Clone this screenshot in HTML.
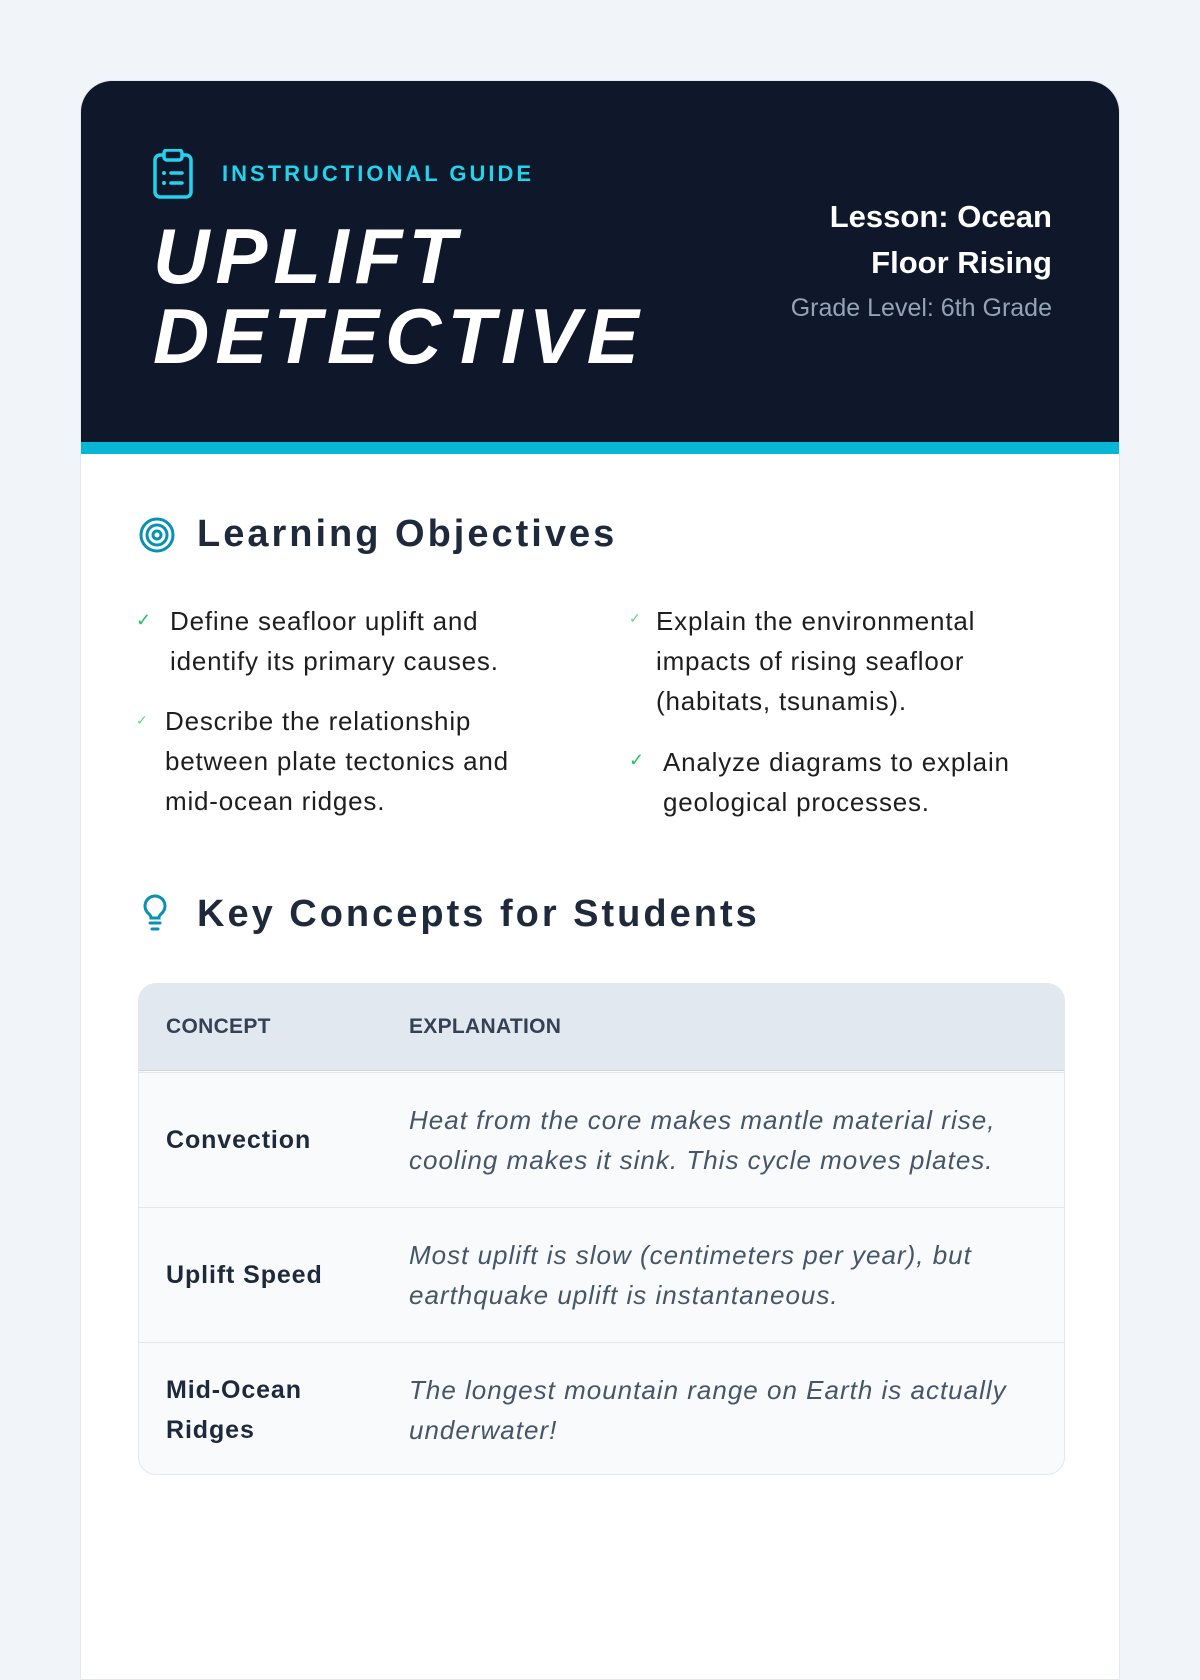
<!DOCTYPE html>
<html><head><meta charset="utf-8"><style>
*{margin:0;padding:0;box-sizing:border-box}
body{width:1200px;height:1600px;background:#f1f5f9;font-family:"Liberation Sans",sans-serif;position:relative;overflow:hidden}
.card{position:absolute;left:80px;top:80px;width:1040px;height:1600px;background:#fff;border-radius:32px 32px 0 0;border:1px solid #e2e8f0;overflow:hidden}
.hdr{position:absolute;left:0;top:0;width:1040px;height:361px;background:#0f172a}
.stripe{position:absolute;left:0;top:361px;width:1040px;height:12px;background:#06b6d4}
.a{position:absolute;white-space:nowrap}
.tag{left:141px;top:80px;color:#22d3ee;font-weight:bold;font-size:22px;letter-spacing:3px;line-height:26px}
.title{left:72px;top:135px;color:#fff;font-weight:900;font-style:italic;font-size:78px;line-height:80px;letter-spacing:6px}
.lesson{right:67px;top:113px;color:#fff;font-weight:bold;font-size:31px;line-height:46px;text-align:right}
.grade{right:67px;top:212px;color:#94a3b8;font-size:25px;line-height:30px}
h2{position:absolute;left:116px;font-size:38px;font-weight:bold;color:#1e293b;line-height:46px;white-space:nowrap;letter-spacing:3px}
.li{position:absolute;font-size:26px;line-height:40px;color:#1e1e1e;letter-spacing:0.8px;white-space:nowrap}
.ck{position:absolute;color:#22c55e;font-size:18px}
.tbl{position:absolute;left:57px;top:902px;width:927px;height:492px;border:1px solid #e2e8f0;border-radius:18px;overflow:hidden;background:#f8fafc}
.th{position:absolute;left:0;top:0;width:100%;height:87px;background:#e2e8f0;border-bottom:1px solid #cbd5e1}
.tt{position:absolute;font-weight:bold;font-size:21px;color:#334155;line-height:26px;letter-spacing:0.3px}
.row{position:absolute;left:0;width:100%;border-top:1px solid #e2e8f0}
.c1{position:absolute;left:27px;font-weight:bold;font-size:25px;color:#1e293b;line-height:40px;letter-spacing:0.9px}
.c2{position:absolute;left:270px;font-style:italic;font-size:26px;color:#475569;line-height:40px;white-space:nowrap;letter-spacing:1px}
</style></head><body>
<div class="card">
<div class="hdr"></div><div class="stripe"></div>
<svg class="a" style="left:71px;top:68px" width="44" height="50" viewBox="0 0 44 50"><rect x="3" y="6" width="36" height="42" rx="5" fill="none" stroke="#22d3ee" stroke-width="3.5"/><rect x="12" y="1" width="18" height="10" rx="3" fill="#0f172a" stroke="#22d3ee" stroke-width="3.5"/><circle cx="12" cy="24" r="2" fill="#22d3ee"/><circle cx="12" cy="34" r="2" fill="#22d3ee"/><line x1="19" y1="24" x2="30" y2="24" stroke="#22d3ee" stroke-width="3.5" stroke-linecap="round"/><line x1="19" y1="34" x2="30" y2="34" stroke="#22d3ee" stroke-width="3.5" stroke-linecap="round"/></svg>
<div class="a tag">INSTRUCTIONAL GUIDE</div>
<div class="a title">UPLIFT<br>DETECTIVE</div>
<div class="a lesson">Lesson: Ocean<br>Floor Rising</div>
<div class="a grade">Grade Level: 6th Grade</div>

<svg class="a" style="left:57px;top:435px" width="38" height="38" viewBox="0 0 38 38"><circle cx="19" cy="19" r="16" fill="none" stroke="#0891b2" stroke-width="3"/><circle cx="19" cy="19" r="10" fill="none" stroke="#0891b2" stroke-width="3"/><circle cx="19" cy="19" r="4" fill="none" stroke="#0891b2" stroke-width="3"/></svg>
<h2 style="top:430px">Learning Objectives</h2>

<div class="ck" style="left:55px;top:529px">✓</div>
<div class="li" style="left:89px;top:520px">Define seafloor uplift and<br>identify its primary causes.</div>
<div class="ck" style="left:55px;top:631px;font-size:14px;opacity:.7">✓</div>
<div class="li" style="left:84px;top:620px">Describe the relationship<br>between plate tectonics and<br>mid-ocean ridges.</div>
<div class="ck" style="left:548px;top:529px;font-size:14px;opacity:.7">✓</div>
<div class="li" style="left:575px;top:520px">Explain the environmental<br>impacts of rising seafloor<br>(habitats, tsunamis).</div>
<div class="ck" style="left:548px;top:669px">✓</div>
<div class="li" style="left:582px;top:661px">Analyze diagrams to explain<br>geological processes.</div>

<svg class="a" style="left:60px;top:812px" width="28" height="40" viewBox="0 0 28 40"><path d="M14 3a10 10 0 0 0-6 18c1.5 1.2 2 2.5 2 4h8c0-1.5.5-2.8 2-4a10 10 0 0 0-6-18z" fill="none" stroke="#0891b2" stroke-width="3"/><line x1="9" y1="30" x2="19" y2="30" stroke="#0891b2" stroke-width="3" stroke-linecap="round"/><line x1="11" y1="36" x2="17" y2="36" stroke="#0891b2" stroke-width="3" stroke-linecap="round"/></svg>
<h2 style="top:810px">Key Concepts for Students</h2>

<div class="tbl">
<div class="th"></div>
<div class="tt" style="left:27px;top:30px">CONCEPT</div>
<div class="tt" style="left:270px;top:30px">EXPLANATION</div>
<div class="row" style="top:88px;height:135px">
<div class="c1" style="top:47px">Convection</div>
<div class="c2" style="top:27px">Heat from the core makes mantle material rise,<br>cooling makes it sink. This cycle moves plates.</div></div>
<div class="row" style="top:223px;height:135px">
<div class="c1" style="top:47px">Uplift Speed</div>
<div class="c2" style="top:27px">Most uplift is slow (centimeters per year), but<br>earthquake uplift is instantaneous.</div></div>
<div class="row" style="top:358px;height:135px">
<div class="c1" style="top:27px">Mid-Ocean<br>Ridges</div>
<div class="c2" style="top:27px">The longest mountain range on Earth is actually<br>underwater!</div></div>
</div>
</div>
</body></html>
